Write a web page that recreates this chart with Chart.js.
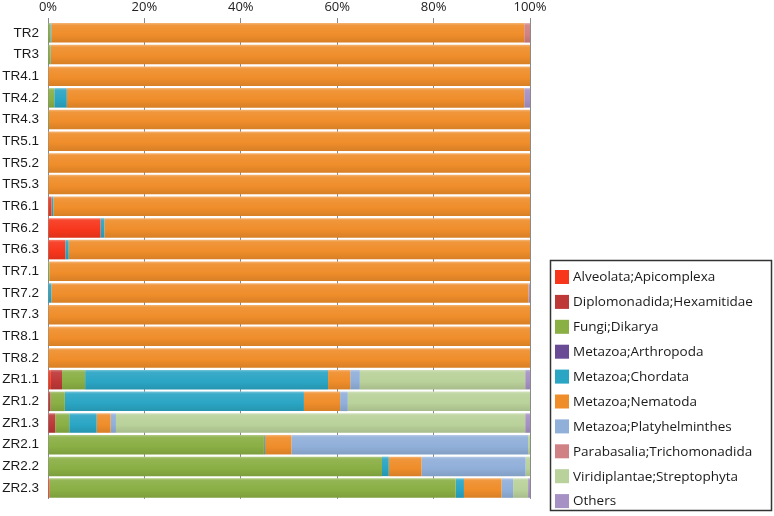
<!DOCTYPE html>
<html>
<head>
<meta charset="utf-8">
<script src="https://cdn.jsdelivr.net/npm/chart.js@4"></script>
<style>
  html, body { margin: 0; padding: 0; background: #ffffff; }
  #wrap { position: relative; width: 774px; height: 516px; }
</style>
</head>
<body>
<div id="wrap"><canvas id="c" width="774" height="516"></canvas></div>
<script>
const categories = ["TR2","TR3","TR4.1","TR4.2","TR4.3","TR5.1","TR5.2","TR5.3","TR6.1","TR6.2","TR6.3","TR7.1","TR7.2","TR7.3","TR8.1","TR8.2","ZR1.1","ZR1.2","ZR1.3","ZR2.1","ZR2.2","ZR2.3"];
const xTicks = [0, 20, 40, 60, 80, 100];

const alveolata      = [0,0,0,0,0,0,0,0,0.7,10.9,3.6,0,0,0,0,0,0.6,0,0,0,0,0.3];
const diplomonadida  = [0,0,0,0,0,0,0,0,0,0,0,0,0,0,0,0,2.3,0.5,1.5,0,0,0];
const fungi          = [0.5,0.5,0,1.3,0.2,0,0,0,0,0,0,0.3,0,0,0,0,4.8,3.0,2.9,44.8,69.3,84.3];
const arthropoda     = [0,0,0,0,0,0,0,0,0,0,0,0,0,0,0,0,0,0,0,0,0,0];
const chordata       = [0.2,0.1,0,2.6,0,0,0,0,0.4,0.8,0.7,0,0.7,0,0,0,50.4,49.6,5.7,0.2,1.4,1.7];
const nematoda       = [98.1,99.4,100,94.9,99.8,100,100,100,98.9,88.3,95.7,99.7,99.0,100,100,100,4.6,7.5,2.9,5.5,6.8,7.8];
const platyhelminthes= [0,0,0,0,0,0,0,0,0,0,0,0,0,0,0,0,2.0,1.6,1.1,49.1,21.6,2.4];
const parabasalia    = [1.2,0,0,0,0,0,0,0,0,0,0,0,0,0,0,0,0,0,0,0,0,0];
const viridiplantae  = [0,0,0,0,0,0,0,0,0,0,0,0,0,0,0,0,34.3,37.8,84.9,0.4,0.9,3.1];
const others         = [0,0,0,1.2,0,0,0,0,0,0,0,0,0.3,0,0,0,1.0,0,1.0,0,0,0.4];

const seriesNames = ["Alveolata;Apicomplexa","Diplomonadida;Hexamitidae","Fungi;Dikarya","Metazoa;Arthropoda","Metazoa;Chordata","Metazoa;Nematoda","Metazoa;Platyhelminthes","Parabasalia;Trichomonadida","Viridiplantae;Streptophyta","Others"];
const seriesValues = [alveolata, diplomonadida, fungi, arthropoda, chordata, nematoda, platyhelminthes, parabasalia, viridiplantae, others];
const seriesColors = ["#F7361C","#BE3838","#8AAF44","#6A4B96","#2AA5C4","#EF8D2A","#90AFD9","#D08183","#B9D19A","#A591C4"];

function shade(hex, amt) {
  const n = parseInt(hex.slice(1), 16);
  let r = (n >> 16) & 255, g = (n >> 8) & 255, b = n & 255;
  if (amt >= 0) { r += (255 - r) * amt; g += (255 - g) * amt; b += (255 - b) * amt; }
  else { r *= (1 + amt); g *= (1 + amt); b *= (1 + amt); }
  return "rgb(" + Math.round(r) + "," + Math.round(g) + "," + Math.round(b) + ")";
}

function barFill(base) {
  return (c) => {
    const chart = c.chart;
    const ys = chart.scales && chart.scales.y;
    if (!ys || c.type !== 'data') return base;
    const yc = ys.getPixelForValue(c.dataIndex);
    const h = (ys.height / categories.length) * 0.9;
    if (!isFinite(yc) || !isFinite(h) || h <= 0) return base;
    const g = chart.ctx.createLinearGradient(0, yc - h / 2, 0, yc + h / 2);
    g.addColorStop(0, shade(base, 0.35));
    g.addColorStop(0.12, shade(base, 0.08));
    g.addColorStop(0.6, base);
    g.addColorStop(1, shade(base, -0.1));
    return g;
  };
}

const legendBox = {
  id: 'legendBox',
  afterDraw(chart) {
    const ctx = chart.ctx;
    ctx.save();
    ctx.strokeStyle = '#333333';
    ctx.lineWidth = 1.5;
    ctx.strokeRect(550.5, 260.5, 221, 250);
    ctx.font = '13.5px "Open Sans", sans-serif';
    ctx.textBaseline = 'middle';
    ctx.textAlign = 'left';
    for (let i = 0; i < seriesNames.length; i++) {
      const y = 270 + i * 24.9;
      ctx.fillStyle = seriesColors[i];
      ctx.fillRect(555, y, 14, 14);
      ctx.fillStyle = '#1a1a1a';
      ctx.fillText(seriesNames[i], 573, y + 7.5);
    }
    ctx.restore();
  }
};

const datasets = seriesNames.map((name, i) => ({
  label: name,
  data: seriesValues[i],
  backgroundColor: barFill(seriesColors[i]),
  borderWidth: 0,
  barPercentage: 0.9,
  categoryPercentage: 1.0
}));

new Chart(document.getElementById('c'), {
  type: 'bar',
  data: { labels: categories, datasets },
  plugins: [legendBox],
  options: {
    indexAxis: 'y',
    responsive: false,
    animation: false,
    layout: { padding: { left: 0, right: 244, top: 0, bottom: 7 } },
    plugins: { legend: { display: false }, tooltip: { enabled: false } },
    scales: {
      x: {
        position: 'top',
        stacked: true,
        min: 0, max: 100,
        afterBuildTicks: (s) => { s.ticks = xTicks.map(v => ({ value: v })); },
        afterFit: (s) => { s.height = 22; },
        ticks: {
          callback: (v) => v + '%',
          font: { family: '"Open Sans", sans-serif', size: 13 },
          color: '#222222',
          padding: 3
        },
        grid: { color: '#8a8a8a', lineWidth: 1, drawTicks: true, tickLength: 4 },
        border: { display: false }
      },
      y: {
        stacked: true,
        afterFit: (s) => { s.width = 48; },
        ticks: {
          font: { family: '"Liberation Sans", Arial, sans-serif', size: 13.5 },
          color: '#1a1a1a',
          padding: 9
        },
        grid: { display: false, drawTicks: false },
        border: { display: true, color: '#8a8a8a', width: 1 }
      }
    }
  }
});
</script>
</body>
</html>
